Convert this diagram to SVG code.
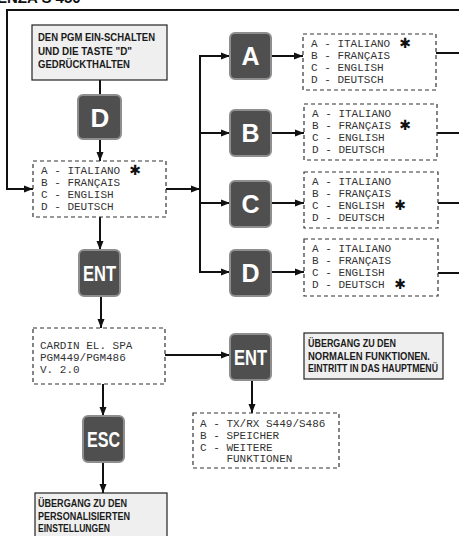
<svg xmlns="http://www.w3.org/2000/svg" width="459" height="536" viewBox="0 0 459 536">
<style>
.btn rect{fill:#4f4f4f;stroke:#8e8e8e;stroke-width:2}
.btn text{fill:#fff;font-family:"Liberation Sans",Arial,sans-serif;font-weight:bold;text-anchor:middle}
.dash{fill:#fff;stroke:#333;stroke-width:1.2;stroke-dasharray:4 3}
.mono{font-family:"Liberation Mono","Courier New",monospace;font-size:11px;fill:#333}
.note rect{fill:#efefef;stroke:#222;stroke-width:1.2}
.note text{font-family:"Liberation Sans",Arial,sans-serif;font-weight:bold;font-size:10px;fill:#1a1a1a}
.star{font-family:"DejaVu Sans",sans-serif;font-size:14px;fill:#111;text-anchor:middle}
.c line,.c path{stroke:#111;stroke-width:2;fill:none}
.title{font-family:"Liberation Sans",Arial,sans-serif;font-weight:bold;font-size:15px;fill:#111}
</style>
<defs>
<marker id="ah" markerUnits="userSpaceOnUse" markerWidth="10" markerHeight="8" refX="9" refY="4" orient="auto">
<path d="M0,0.5 L9,4 L0,7.5 z" fill="#111"/>
</marker>
</defs>
<rect width="459" height="536" fill="#fff"/>
<text class="title" x="-3" y="3">ENZA S 450</text>

<g class="c" id="connectors">
<path d="M459,10 H7 V189 H33" marker-end="url(#ah)"/>
<line x1="100" y1="80" x2="100" y2="95"/>
<line x1="100" y1="139" x2="100" y2="161" marker-end="url(#ah)"/>
<line x1="166" y1="189" x2="200" y2="189" marker-end="url(#ah)"/>
<line x1="200" y1="55" x2="200" y2="273"/>
<line x1="199" y1="56" x2="230" y2="56" marker-end="url(#ah)"/>
<line x1="199" y1="133" x2="230" y2="133" marker-end="url(#ah)"/>
<line x1="199" y1="203" x2="230" y2="203" marker-end="url(#ah)"/>
<line x1="199" y1="272" x2="230" y2="272" marker-end="url(#ah)"/>
<line x1="271" y1="56" x2="303" y2="56" marker-end="url(#ah)"/>
<line x1="271" y1="133" x2="304" y2="133" marker-end="url(#ah)"/>
<line x1="271" y1="203" x2="304" y2="203" marker-end="url(#ah)"/>
<line x1="271" y1="272" x2="304" y2="272" marker-end="url(#ah)"/>
<line x1="436" y1="53" x2="459" y2="53"/>
<line x1="437" y1="133" x2="459" y2="133"/>
<line x1="438" y1="203" x2="459" y2="203"/>
<line x1="438" y1="273" x2="459" y2="273"/>
<line x1="100" y1="217" x2="100" y2="250" marker-end="url(#ah)"/>
<line x1="101" y1="296" x2="101" y2="328" marker-end="url(#ah)"/>
<line x1="165" y1="355" x2="230" y2="355" marker-end="url(#ah)"/>
<line x1="252" y1="380" x2="252" y2="413" marker-end="url(#ah)"/>
<line x1="103" y1="384" x2="103" y2="416" marker-end="url(#ah)"/>
<line x1="103" y1="462" x2="103" y2="493" marker-end="url(#ah)"/>
</g>

<g class="note" id="start">
<rect x="32" y="25" width="135" height="55"/>
<text x="38" y="41" font-size="11" textLength="117" lengthAdjust="spacingAndGlyphs">DEN PGM EIN-SCHALTEN</text>
<text x="38" y="55" font-size="11" textLength="94" lengthAdjust="spacingAndGlyphs">UND DIE TASTE "D"</text>
<text x="38" y="68" font-size="11" textLength="92" lengthAdjust="spacingAndGlyphs">GEDRÜCKTHALTEN</text>
</g>

<g class="btn" id="btnD1"><rect x="78" y="95" width="43" height="44" rx="5"/><text x="100" y="127" font-size="26">D</text></g>

<g id="lang0">
<rect class="dash" x="33" y="161" width="133" height="56"/>
<text class="mono" x="41" y="174">A - ITALIANO</text>
<text class="mono" x="41" y="186">B - FRANÇAIS</text>
<text class="mono" x="41" y="198">C - ENGLISH</text>
<text class="mono" x="41" y="210">D - DEUTSCH</text>
<text class="star" x="135" y="175">✱</text>
</g>

<g class="btn" id="btnA"><rect x="230" y="33" width="41" height="46" rx="5"/><text x="250.5" y="65" font-size="25">A</text></g>
<g class="btn" id="btnB"><rect x="230" y="110" width="41" height="46" rx="5"/><text x="250.5" y="142" font-size="25">B</text></g>
<g class="btn" id="btnC"><rect x="230" y="181" width="41" height="46" rx="5"/><text x="250.5" y="213" font-size="25">C</text></g>
<g class="btn" id="btnD2"><rect x="230" y="250" width="41" height="46" rx="5"/><text x="250.5" y="282" font-size="25">D</text></g>

<g id="langA">
<rect class="dash" x="303" y="34" width="133" height="56"/>
<text class="mono" x="311" y="47">A - ITALIANO</text>
<text class="mono" x="311" y="59">B - FRANÇAIS</text>
<text class="mono" x="311" y="71">C - ENGLISH</text>
<text class="mono" x="311" y="83">D - DEUTSCH</text>
<text class="star" x="405" y="48">✱</text>
</g>
<g id="langB">
<rect class="dash" x="304" y="104" width="133" height="56"/>
<text class="mono" x="312" y="117">A - ITALIANO</text>
<text class="mono" x="312" y="129">B - FRANÇAIS</text>
<text class="mono" x="312" y="141">C - ENGLISH</text>
<text class="mono" x="312" y="153">D - DEUTSCH</text>
<text class="star" x="405" y="130">✱</text>
</g>
<g id="langC">
<rect class="dash" x="304" y="172" width="134" height="56"/>
<text class="mono" x="312" y="185">A - ITALIANO</text>
<text class="mono" x="312" y="197">B - FRANÇAIS</text>
<text class="mono" x="312" y="209">C - ENGLISH</text>
<text class="mono" x="312" y="221">D - DEUTSCH</text>
<text class="star" x="400" y="210">✱</text>
</g>
<g id="langD">
<rect class="dash" x="304" y="239" width="134" height="57"/>
<text class="mono" x="312" y="252">A - ITALIANO</text>
<text class="mono" x="312" y="264">B - FRANÇAIS</text>
<text class="mono" x="312" y="276">C - ENGLISH</text>
<text class="mono" x="312" y="288">D - DEUTSCH</text>
<text class="star" x="400" y="289">✱</text>
</g>

<g class="btn" id="btnENT1"><rect x="79" y="250" width="41" height="46" rx="5"/><text x="99.5" y="281" font-size="22" textLength="33" lengthAdjust="spacingAndGlyphs">ENT</text></g>

<g id="cardin">
<rect class="dash" x="33" y="328" width="132" height="56"/>
<text class="mono" x="40" y="349" font-size="14">CARDIN EL. SPA</text>
<text class="mono" x="40" y="361" font-size="14">PGM449/PGM486</text>
<text class="mono" x="40" y="373" font-size="14">V. 2.0</text>
</g>

<g class="btn" id="btnENT2"><rect x="230" y="334" width="41" height="46" rx="5"/><text x="250.5" y="365" font-size="22" textLength="33" lengthAdjust="spacingAndGlyphs">ENT</text></g>

<g class="note" id="normal">
<rect x="304" y="333" width="139" height="46"/>
<text x="308" y="347" textLength="88" lengthAdjust="spacingAndGlyphs">ÜBERGANG ZU DEN</text>
<text x="308" y="360" textLength="122" lengthAdjust="spacingAndGlyphs">NORMALEN FUNKTIONEN.</text>
<text x="308" y="372" font-size="9.6" textLength="130" lengthAdjust="spacingAndGlyphs">EINTRITT IN DAS HAUPTMENÜ</text>
</g>

<g id="menu">
<rect class="dash" x="193" y="413" width="146" height="55"/>
<text class="mono" x="200" y="427">A - TX/RX S449/S486</text>
<text class="mono" x="200" y="439">B - SPEICHER</text>
<text class="mono" x="200" y="451">C - WEITERE</text>
<text class="mono" x="226.4" y="462">FUNKTIONEN</text>
</g>

<g class="btn" id="btnESC"><rect x="83" y="416" width="41" height="46" rx="5"/><text x="103.5" y="447" font-size="22" textLength="33" lengthAdjust="spacingAndGlyphs">ESC</text></g>

<g class="note" id="personal">
<rect x="35" y="493" width="132" height="50"/>
<text x="38" y="507" font-size="11" textLength="89" lengthAdjust="spacingAndGlyphs">ÜBERGANG ZU DEN</text>
<text x="38" y="520" font-size="11" textLength="92" lengthAdjust="spacingAndGlyphs">PERSONALISIERTEN</text>
<text x="38" y="532" font-size="11" textLength="72" lengthAdjust="spacingAndGlyphs">EINSTELLUNGEN</text>
</g>
</svg>
